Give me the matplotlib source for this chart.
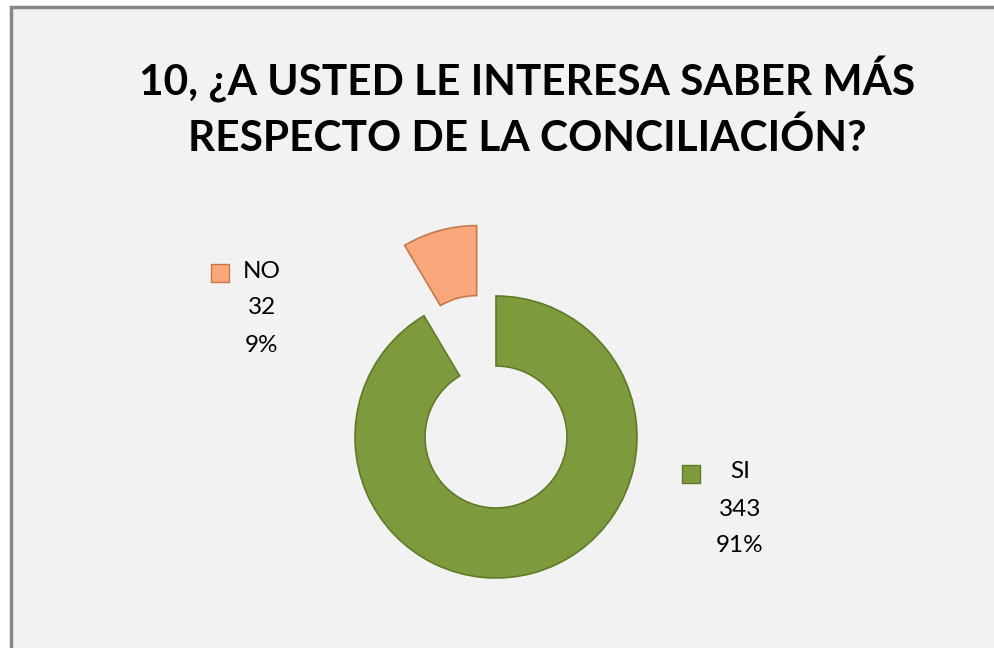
import matplotlib
matplotlib.use('Agg')
import matplotlib.pyplot as plt
from matplotlib.patches import Rectangle

# data
categories = ['SI', 'NO']
counts = [343, 32]
colors = ['#7d9b3d', '#f9a77b']
edge_colors = ['#5f7a28', '#c9784c']
title = '10, ¿A USTED LE INTERESA SABER MÁS\nRESPECTO DE LA CONCILIACIÓN?'

W, H = 995, 648
fig = plt.figure(figsize=(W / 100, H / 100), dpi=100)
fig.patch.set_facecolor('white')
ax = fig.add_axes([0, 0, 1, 1])

total = sum(counts)
pcts = [round(c / total * 100) for c in counts]

# donut, clockwise from 12 o'clock, NO slice pulled out
# (explode is in data units here since radius is in pixels)
ax.pie(counts, colors=colors, startangle=90, counterclock=False,
       radius=141, center=(496, H - 437), explode=[0, 73],
       wedgeprops=dict(width=70, linewidth=1.2),
       frame=True)
for w, ec in zip(ax.patches, edge_colors):
    w.set_edgecolor(ec)

ax.set_xlim(0, W)
ax.set_ylim(0, H)
ax.set_aspect('auto')
ax.axis('off')

# chart area background + border
ax.add_patch(Rectangle((11, -10), W + 20, H - 7 + 10, facecolor='#f2f2f2',
                       edgecolor='#878787', linewidth=2.5, zorder=0))

ax.text(527, H - 107, title, ha='center', va='center', fontsize=30.5,
        fontweight='bold', family='Lato', linespacing=1.5, color='black')

# data labels
label_pos = {'SI': (740, 472, 691), 'NO': (262, 271, 220)}
for cat, n, p, col, ec in zip(categories, counts, pcts, colors, edge_colors):
    x, y, mx = label_pos[cat]
    ax.text(x, H - y, cat, ha='center', va='center', fontsize=17.5, family='Lato')
    ax.text(x, H - y - 37, str(n), ha='center', va='center', fontsize=17.5, family='Lato')
    ax.text(x, H - y - 74, f'{p}%', ha='center', va='center', fontsize=17.5, family='Lato')
    ax.scatter([mx], [H - y - 2], marker='s', s=150, color=col, edgecolors=ec,
               linewidths=1, zorder=3)

fig.savefig('out.png', dpi=100, facecolor=fig.get_facecolor())
